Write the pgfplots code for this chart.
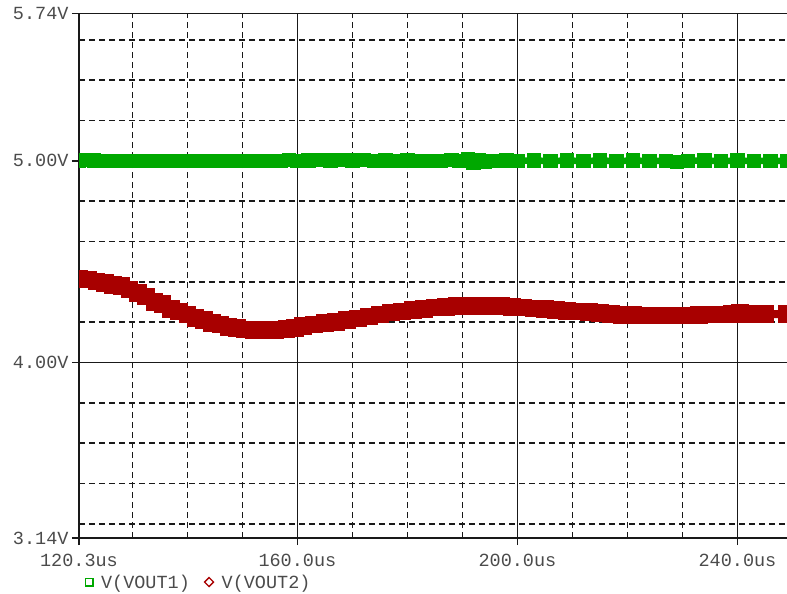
\documentclass[border=0pt]{standalone}
\usepackage{fontspec}
\setmainfont{Liberation Mono}
\usepackage{pgfplots}
\pgfplotsset{compat=1.18}

\definecolor{gridc}{RGB}{25,25,25}
\definecolor{labc}{RGB}{75,75,75}
\definecolor{vgreen}{RGB}{0,168,0}
\definecolor{vred}{RGB}{168,0,0}

% V(VOUT1): regulated output, time in us, voltage in V
\pgfplotstableread{
t      v
120.3  5.002
121.5  5.004
123.0  5.001
125.0  4.998
127.0  5.000
129.0  4.998
131.0  5.000
133.0  4.998
135.0  5.000
137.0  4.998
139.0  5.000
141.0  4.998
143.0  5.000
145.0  4.998
147.0  5.000
149.0  4.998
151.0  5.000
153.0  4.998
155.0  5.000
157.0  4.998
158.5  5.003
160.0  5.000
162.0  5.002
164.0  5.004
166.0  5.002
168.0  5.004
170.0  5.001
172.0  5.003
174.0  5.000
176.0  5.002
178.0  4.999
180.0  5.001
182.0  4.998
184.0  5.000
186.0  4.998
188.0  5.003
189.5  5.000
191.0  5.006
192.0  4.988
193.0  5.004
194.0  4.996
196.0  5.000
198.0  5.002
200.0  5.000
203.0  5.001
206.0  4.999
209.0  5.001
212.0  4.999
215.0  5.001
218.0  4.999
221.0  5.001
224.0  4.999
227.0  5.000
229.0  4.993
231.0  5.000
234.0  5.001
237.0  4.999
240.0  5.001
243.0  4.999
246.0  5.000
249.0  4.998
}\voutone

% V(VOUT2): second output with slow droop and recovery
\pgfplotstableread{
t      v
120.3  4.415
122.0  4.412
123.5  4.402
125.0  4.395
126.5  4.385
128.0  4.378
129.5  4.362
131.0  4.345
132.5  4.328
134.0  4.300
135.5  4.290
137.0  4.265
138.5  4.252
140.0  4.238
141.5  4.222
143.0  4.210
144.5  4.196
146.0  4.188
147.5  4.176
149.0  4.170
150.5  4.163
152.0  4.160
154.0  4.160
156.0  4.160
158.0  4.165
159.6  4.172
161.0  4.182
163.0  4.188
165.0  4.195
167.0  4.200
169.0  4.210
171.0  4.218
173.0  4.228
175.0  4.238
177.0  4.248
179.0  4.252
181.0  4.260
183.0  4.266
185.0  4.272
187.0  4.276
189.0  4.279
191.0  4.280
193.0  4.281
195.0  4.280
197.0  4.280
199.0  4.276
201.0  4.272
203.0  4.268
205.0  4.264
207.0  4.260
209.0  4.255
211.0  4.252
213.0  4.249
215.0  4.246
217.0  4.240
219.0  4.236
221.0  4.234
224.0  4.233
227.0  4.233
230.0  4.233
233.0  4.235
236.0  4.237
239.0  4.240
240.5  4.245
242.0  4.241
245.0  4.240
249.0  4.240
}\vouttwo

\begin{document}
\begin{tikzpicture}
\useasboundingbox (0,0) rectangle (787bp,-594bp);
\begin{axis}[
  at={(79bp,-13.5bp)}, anchor=north west,
  scale only axis, width=708bp, height=524.5bp,
  xmin=120.3, xmax=249.0, ymin=3.13, ymax=5.73,
  clip marker paths=true,
  axis x line=box, axis y line=left,
  every outer x axis line/.append style={-},
  every outer y axis line/.append style={-},
  every boxed x axis/.append style={-},
  axis line style={-, line width=1.7bp, draw=gridc},
  xtick={120.3,160,200,240},
  xticklabels={120.3us,160.0us,200.0us,240.0us},
  ytick={3.13,4,5,5.73},
  yticklabels={3.14V,4.00V,5.00V,5.74V},
  minor xtick={130,140,150,170,180,190,210,220,230},
  minor ytick={3.2,3.4,3.6,3.8,4.2,4.4,4.6,4.8,5.2,5.4,5.6},
  xtick pos=bottom, ytick pos=left,
  tick align=outside,
  major tick length=7bp, minor tick length=0pt,
  tick style={line width=1.7bp, draw=gridc},
  grid=both,
  major grid style={solid, line width=1.6bp, draw=gridc},
  minor grid style={line width=1.6bp, draw=gridc, dash pattern=on 6bp off 4bp},
  tick label style={font=\fontsize{18.5bp}{20bp}\selectfont, text=labc},
  xticklabel style={yshift=-6bp},
  legend columns=2,
  legend style={at={(0,-0.084)}, anchor=west, draw=none, fill=none,
    inner sep=0pt, font=\fontsize{18.5bp}{20bp}\selectfont, text=labc,
    /tikz/every odd column/.append style={column sep=5.5bp},
    /tikz/every even column/.append style={column sep=12bp}},
]
\addplot[vgreen, line width=6.5bp, line join=miter,
  mark=square*, mark size=4bp, mark options={solid, draw=none, fill=vgreen},
  legend image code/.code={\path (0bp,0bp); \draw[vgreen, line width=1.3bp] (3bp,-3.8bp) rectangle (10.5bp,3.8bp);}]
  table[x=t, y=v] {\voutone};
\addlegendentry{V(VOUT1)}
\addplot[vred, line width=8bp, line join=miter,
  mark=square*, mark size=4.8bp, mark options={solid, draw=none, fill=vred},
  legend image code/.code={\draw[vred, line width=1.3bp] (0bp,0bp) -- (4.5bp,4.5bp) -- (9bp,0bp) -- (4.5bp,-4.5bp) -- cycle;}]
  table[x=t, y=v] {\vouttwo};
\addlegendentry{V(VOUT2)}
\end{axis}
\end{tikzpicture}
\end{document}
